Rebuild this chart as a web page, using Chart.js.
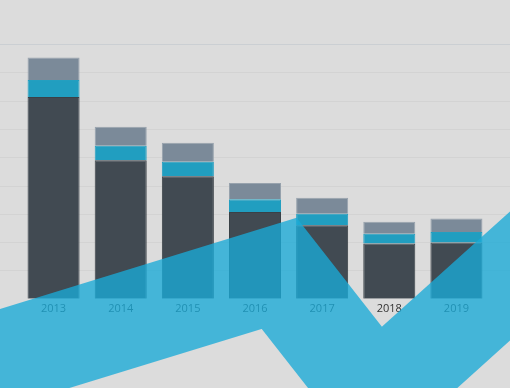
<!DOCTYPE html>
<html>
<head>
<meta charset="utf-8">
<script src="https://cdn.jsdelivr.net/npm/chart.js@4/dist/chart.umd.min.js"></script>
<style>
  html, body { margin: 0; padding: 0; background: #dcdcdc; }
  #wrap { width: 510px; height: 388px; }
</style>
</head>
<body>
<div id="wrap"><canvas id="chart" width="510" height="388"></canvas></div>
<script>
  // data
  const years = ['2013', '2014', '2015', '2016', '2017', '2018', '2019'];
  const baseValues = [71.3, 48.9, 43.3, 30.7, 26.0, 19.5, 19.9];
  const midValues = [6.0, 5.2, 5.1, 4.5, 4.0, 3.5, 3.7];
  const topValues = [7.9, 6.7, 6.7, 5.7, 5.7, 4.2, 4.8];
  const yTicks = [0, 10, 20, 30, 40, 50, 60, 70, 80, 90];

  // trend ribbon, in category index / value units
  const trendX = [-1.69, 3.36, 4.80, 7.84];
  const trendY = [-27.8, 9.0, -34.6, 30.3];

  const trendPoints = trendX.map(function(x, i) {
    return { x: x, y: trendY[i] };
  });

  // background and full width grid lines
  const backdrop = {
    id: 'backdrop',
    beforeDraw(chart) {
      const ctx = chart.ctx;
      const yScale = chart.scales.y;
      ctx.save();
      ctx.fillStyle = '#dcdcdc';
      ctx.fillRect(0, 0, chart.width, chart.height);
      yTicks.forEach(function(t) {
        if (t === 0) return;
        const py = Math.round(yScale.getPixelForValue(t)) + 0.5;
        ctx.strokeStyle = t === yTicks[yTicks.length - 1] ? '#cbcfd3' : '#d3d3d3';
        ctx.lineWidth = 1;
        ctx.beginPath();
        ctx.moveTo(0, py);
        ctx.lineTo(chart.width, py);
        ctx.stroke();
      });
      ctx.restore();
    }
  };

  const barStyle = {
    type: 'bar',
    order: 1,
    grouped: false,
    xAxisID: 'x',
    yAxisID: 'y',
    borderWidth: 1
  };

  new Chart(document.getElementById('chart'), {
    data: {
      labels: years,
      datasets: [{
        type: 'line',
        data: trendPoints,
        xAxisID: 'xr',
        yAxisID: 'yr',
        order: 0,
        borderColor: 'rgba(25, 171, 215, 0.78)',
        borderWidth: 96,
        borderJoinStyle: 'miter',
        borderCapStyle: 'butt',
        pointRadius: 0,
        tension: 0,
        fill: false,
        clip: false
      }, Object.assign({}, barStyle, {
        data: baseValues,
        backgroundColor: '#414a52',
        borderColor: '#3a4147'
      }), Object.assign({}, barStyle, {
        data: midValues,
        backgroundColor: '#219ec0',
        borderColor: '#249fc0'
      }), Object.assign({}, barStyle, {
        data: topValues,
        backgroundColor: '#7b8a99',
        borderColor: '#97a2ad'
      })]
    },
    options: {
      responsive: false,
      animation: false,
      barPercentage: 1,
      categoryPercentage: 0.775,
      layout: {
        padding: { top: 44, left: 20, right: 20, bottom: 70 }
      },
      plugins: {
        legend: { display: false },
        tooltip: { enabled: false }
      },
      scales: {
        x: {
          stacked: true,
          grid: { display: false, drawTicks: false },
          border: { display: false },
          ticks: {
            padding: 3,
            color: '#333333',
            font: { family: 'Open Sans', size: 11 }
          }
        },
        y: {
          stacked: true,
          display: false,
          min: 0,
          max: 90,
          ticks: { stepSize: 10 }
        },
        xr: {
          type: 'linear',
          display: false,
          min: -0.5,
          max: 6.5
        },
        yr: {
          type: 'linear',
          display: false,
          min: 0,
          max: 90
        }
      }
    },
    plugins: [backdrop]
  });
</script>
</body>
</html>
